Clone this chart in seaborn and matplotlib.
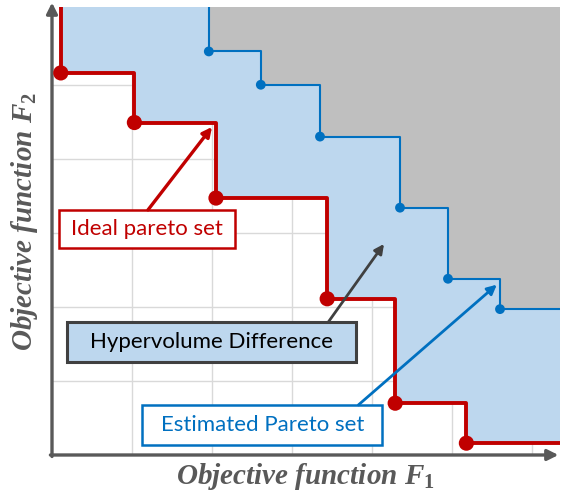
import numpy as np
import seaborn as sns
import matplotlib.pyplot as plt
from matplotlib.patches import Rectangle

# Ideal pareto set (red) - grid units
ideal_f1 = [0.11, 1.03, 2.05, 3.44, 4.29, 5.18]
ideal_f2 = [5.16, 4.49, 3.47, 2.11, 0.70, 0.16]

# Estimated pareto set (blue)
est_f1 = [1.96, 2.61, 3.35, 4.35, 4.95, 5.60]
est_f2 = [5.45, 5.00, 4.30, 3.34, 2.38, 1.97]

XMAX, YMAX = 6.35, 6.05
RED, BLUE = "#C00000", "#0070C0"
LIGHT, GRAY, AXC = "#BDD7EE", "#BFBFBF", "#595959"

sns.set_style("white")
plt.rcParams["font.family"] = ["Lato", "DejaVu Sans"]
plt.rcParams["mathtext.fontset"] = "custom"
plt.rcParams["mathtext.it"] = "Liberation Serif:italic:bold"
plt.rcParams["mathtext.rm"] = "Liberation Serif:bold"


def staircase(xs, ys):
    # vertical drop from the top, steps, then run out to the right edge
    sx = [xs[0]] + list(xs) + [XMAX]
    sy = [YMAX] + list(ys) + [ys[-1]]
    return np.array(sx), np.array(sy)


fig = plt.figure(figsize=(5.69, 4.95), dpi=100)
ax = fig.add_axes([52 / 569, 40 / 495, 508 / 569, 448 / 495])
ax.set_xlim(0, XMAX)
ax.set_ylim(0, YMAX)

rx, ry = staircase(ideal_f1, ideal_f2)
bx, by = staircase(est_f1, est_f2)

ax.fill_between(rx, ry, YMAX, step="post", color=LIGHT, lw=0, zorder=1)
ax.fill_between(bx, by, YMAX, step="post", color=GRAY, lw=0, zorder=1.1)

sns.lineplot(x=rx, y=ry, sort=False, estimator=None, drawstyle="steps-post",
             color=RED, lw=2.8, ax=ax, zorder=3)
sns.lineplot(x=bx, y=by, sort=False, estimator=None, drawstyle="steps-post",
             color=BLUE, lw=1.5, ax=ax, zorder=3)
sns.scatterplot(x=ideal_f1, y=ideal_f2, color=RED, s=120, edgecolor="none",
                ax=ax, zorder=4)
sns.scatterplot(x=est_f1, y=est_f2, color=BLUE, s=50, edgecolor="none",
                ax=ax, zorder=4)

# grid
ax.set_xticks(range(1, 7))
ax.set_yticks(range(1, 6))
ax.set_xticklabels([])
ax.set_yticklabels([])
ax.tick_params(length=0)
ax.grid(True, color="#D9D9D9", lw=1)
ax.set_axisbelow(True)
for s in ax.spines.values():
    s.set_visible(False)

# axes arrows
arr = dict(arrowstyle="-|>", color=AXC, lw=2.4, mutation_scale=16,
           shrinkA=0, shrinkB=0)
ax.annotate("", xy=(6.33, 0), xytext=(-0.02, 0), arrowprops=arr,
            annotation_clip=False)
ax.annotate("", xy=(0, 6.11), xytext=(0, -0.02), arrowprops=arr,
            annotation_clip=False)

# annotation boxes
boxes = [
    ("Ideal pareto set", (0.09, 2.80), 2.20, 0.51, "white", RED, RED, 1.8),
    ("Hypervolume Difference", (0.19, 1.25), 3.61, 0.54, LIGHT, "#404040", "black", 2.2),
    ("Estimated Pareto set", (1.13, 0.135), 3.0, 0.54, "white", BLUE, BLUE, 1.8),
]
for label, (x0, y0), w, h, fc, ec, tc, lw in boxes:
    ax.add_patch(Rectangle((x0, y0), w, h, facecolor=fc, edgecolor=ec,
                           lw=lw, zorder=5))
    ax.text(x0 + w / 2, y0 + h / 2, label, color=tc, fontsize=16,
            ha="center", va="center", zorder=6)

arrows = [
    ((1.20, 3.31), (2.00, 4.43), RED, 2.4),
    ((3.45, 1.79), (4.15, 2.85), "#404040", 2.0),
    ((3.83, 0.676), (5.56, 2.30), BLUE, 2.0),
]
for start, end, c, lw in arrows:
    ax.annotate("", xy=end, xytext=start, zorder=6,
                arrowprops=dict(arrowstyle="-|>", color=c, lw=lw,
                                mutation_scale=14, shrinkA=0, shrinkB=0))

lab = dict(color=AXC, fontsize=21, family="Liberation Serif",
           style="italic", weight="bold", ha="center", va="center")
fig.text(305 / 569, 1 - 476 / 495, r"Objective function $F_1$", **lab)
fig.text(25 / 569, 1 - 222 / 495, r"Objective function $F_2$",
         rotation=90, **lab)

fig.savefig("out.png", dpi=100)
